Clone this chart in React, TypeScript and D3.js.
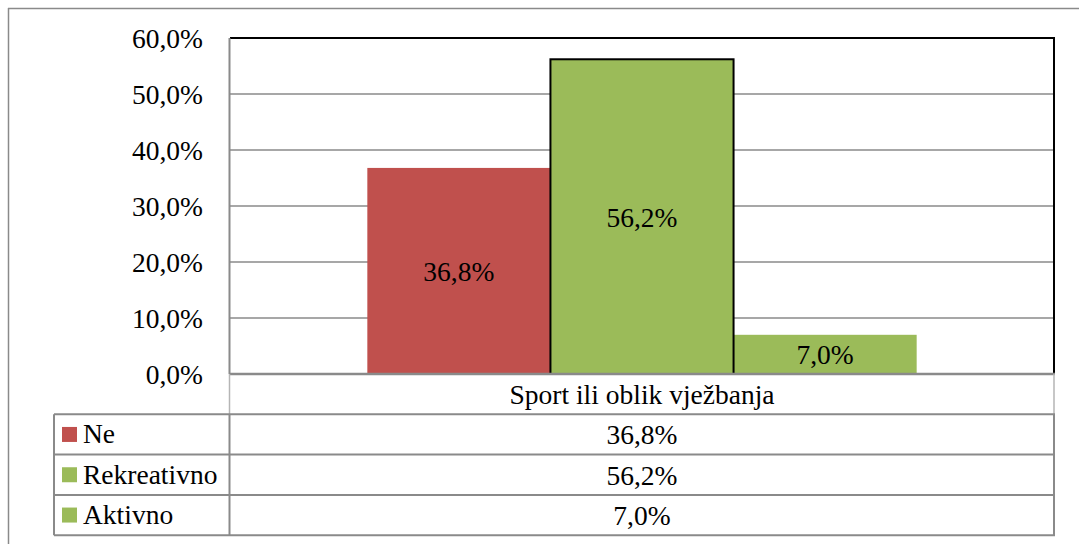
import React from 'react';
import * as d3 from 'd3';

const category = 'Sport ili oblik vježbanja';
const seriesNames = ['Ne', 'Rekreativno', 'Aktivno'];
const seriesValues = [36.8, 56.2, 7.0];
const seriesColors = ['#C0504D', '#9BBB59', '#9BBB59'];
const yTicks = [0, 10, 20, 30, 40, 50, 60];

const W = 1079;
const H = 544;
const font = 'Liberation Serif';
const fs = 27.5;
const grey = '#8a8a8a';

const fmt = (v: number) => v.toFixed(1).replace('.', ',') + '%';

export default function App() {
  const plot = { left: 230, right: 1054, top: 38, bottom: 374 };
  const rowH = 40.3;
  const tableLeft = 54;

  const y = d3.scaleLinear().domain([0, 60]).range([plot.bottom, plot.top]);
  const xCat = d3.scaleBand().domain([category]).range([plot.left, plot.right]);
  // gap width 150%: group of 3 bars with half a gap on each side
  const gap = xCat.bandwidth() * (0.75 / 4.5);
  const xSeries = d3.scaleBand().domain(seriesNames)
    .range([(xCat(category) as number) + gap, (xCat(category) as number) + xCat.bandwidth() - gap]);
  const catCenter = (xCat(category) as number) + xCat.bandwidth() / 2;

  const rows = seriesNames.map((n, i) => ({ name: n, value: seriesValues[i], color: seriesColors[i] }));
  const headerTop = plot.bottom;
  const rowTop = (i: number) => headerTop + rowH * (i + 1);
  const tableBottom = rowTop(rows.length);

  return (
    <svg width={W} height={H} style={{ position: 'absolute', left: 0, top: 0, background: '#fff' }} fontFamily={font}>
      <rect x={0} y={0} width={W} height={H} fill="#fff" />
      {/* outer frame */}
      <line x1={8} y1={8.5} x2={W} y2={8.5} stroke={grey} strokeWidth={1.5} />
      <line x1={8.5} y1={8} x2={8.5} y2={H} stroke={grey} strokeWidth={1.5} />

      {/* gridlines */}
      {yTicks.filter(t => t > 0 && t < 60).map(t => (
        <line key={t} x1={plot.left} x2={plot.right} y1={y(t)} y2={y(t)} stroke={grey} strokeWidth={1.5} />
      ))}

      {/* bars */}
      {rows.map((r, i) => (
        <rect key={r.name}
          x={xSeries(r.name) as number}
          y={y(r.value)}
          width={xSeries.bandwidth()}
          height={plot.bottom - y(r.value)}
          fill={r.color} />
      ))}
      {/* middle bar outline */}
      <rect x={xSeries('Rekreativno') as number} y={y(seriesValues[1])} width={xSeries.bandwidth()}
        height={plot.bottom - y(seriesValues[1])} fill="none" stroke="#000" strokeWidth={2} />

      {/* plot area border */}
      <line x1={plot.left} x2={plot.right + 1} y1={plot.top} y2={plot.top} stroke="#000" strokeWidth={2} />
      <line x1={plot.right} x2={plot.right} y1={plot.top} y2={plot.bottom} stroke="#000" strokeWidth={2} />
      <line x1={plot.left - 0.5} x2={plot.left - 0.5} y1={plot.top} y2={plot.bottom} stroke={grey} strokeWidth={2} />
      <line x1={plot.left} x2={plot.right + 1} y1={plot.bottom} y2={plot.bottom} stroke={grey} strokeWidth={2.5} />

      {/* data labels */}
      {rows.map(r => (
        <text key={r.name} x={(xSeries(r.name) as number) + xSeries.bandwidth() / 2}
          y={(y(r.value) + plot.bottom) / 2 + 10} textAnchor="middle" fontSize={fs} fill="#000">
          {fmt(r.value)}
        </text>
      ))}

      {/* y tick labels */}
      {yTicks.map(t => (
        <text key={t} x={203} y={y(t) + 9.5} textAnchor="end" fontSize={fs} fill="#000">{fmt(t)}</text>
      ))}

      {/* data table */}
      <line x1={plot.left - 0.5} x2={plot.left - 0.5} y1={headerTop} y2={rowTop(0)} stroke="#b5b5b5" strokeWidth={1.5} />
      <line x1={plot.right} x2={plot.right} y1={headerTop} y2={rowTop(0)} stroke="#b5b5b5" strokeWidth={1.5} />
      <text x={catCenter} y={headerTop + rowH / 2 + 9.5} textAnchor="middle" fontSize={fs} fill="#000">{category}</text>
      {rows.map((r, i) => (
        <g key={r.name}>
          <line x1={tableLeft} x2={plot.right + 1} y1={rowTop(i)} y2={rowTop(i)} stroke={grey} strokeWidth={2} />
          <rect x={62} y={rowTop(i) + rowH / 2 - 7.5} width={15} height={15} fill={r.color} />
          <text x={83} y={rowTop(i) + rowH / 2 + 9} fontSize={fs} fill="#000">{r.name}</text>
          <text x={catCenter} y={rowTop(i) + rowH / 2 + 10} textAnchor="middle" fontSize={fs} fill="#000">{fmt(r.value)}</text>
        </g>
      ))}
      <line x1={tableLeft} x2={plot.right + 1} y1={tableBottom} y2={tableBottom} stroke={grey} strokeWidth={2} />
      <line x1={tableLeft} x2={tableLeft} y1={rowTop(0)} y2={tableBottom} stroke={grey} strokeWidth={2} />
      <line x1={plot.left - 0.5} x2={plot.left - 0.5} y1={rowTop(0)} y2={tableBottom} stroke={grey} strokeWidth={2} />
      <line x1={plot.right} x2={plot.right} y1={rowTop(0)} y2={tableBottom} stroke={grey} strokeWidth={2} />
    </svg>
  );
}
